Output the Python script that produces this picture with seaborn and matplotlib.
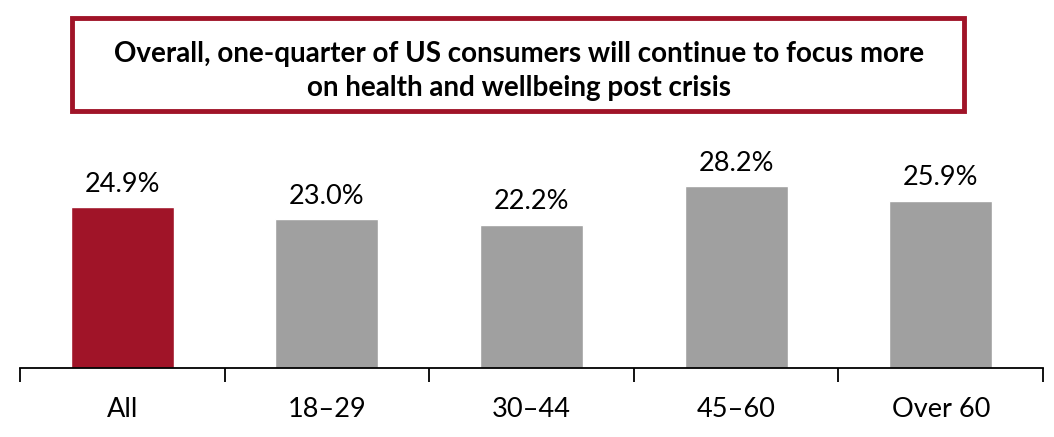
import numpy as np
import pandas as pd
import seaborn as sns
import matplotlib.pyplot as plt
from matplotlib.patches import Rectangle

# Chart data
groups = ["All", "18\u201329", "30\u201344", "45\u201360", "Over 60"]
shares = [24.9, 23.0, 22.2, 28.2, 25.9]
bar_colors = ["#A01428", "#A0A0A0", "#A0A0A0", "#A0A0A0", "#A0A0A0"]
title = "Overall, one-quarter of US consumers will continue to focus more\non health and wellbeing post crisis"

df = pd.DataFrame({"group": groups, "share": shares})

sns.set_style("white")
plt.rcParams['font.family'] = ['Lato', 'DejaVu Sans']
plt.rcParams['text.color'] = 'black'
plt.rcParams['xtick.color'] = 'black'

fig = plt.figure(figsize=(10.54, 4.37), dpi=100)
W, H = 1054, 437
# axes placed in pixel terms: left 20, right 1043, bottom 368, top 142
ax = fig.add_axes([20 / W, (H - 368) / H, 1023 / W, 226 / H])

sns.barplot(data=df, x="group", y="share", hue="group", palette=bar_colors,
            width=0.503, legend=False, ax=ax, saturation=1)

ax.set_ylim(0, 35)
ax.set_xlim(-0.5, len(groups) - 0.5)
ax.set_xlabel("")
ax.set_ylabel("")
ax.set_yticks([])
for s in ["top", "right", "left"]:
    ax.spines[s].set_visible(False)
ax.spines["bottom"].set_color("black")
ax.spines["bottom"].set_linewidth(1.3)

ax.tick_params(axis="x", which="major", bottom=True, length=0, pad=21,
               labelsize=19.5, labelcolor="black")
ax.set_xticks(np.arange(-0.5, len(groups)), minor=True)
ax.tick_params(axis="x", which="minor", bottom=True, length=10, width=1.3,
               direction="out", color="black")

for i, v in enumerate(shares):
    ax.text(i, v + 1.6, f"{v:.1f}%", ha="center", va="bottom", fontsize=19.5,
            color="black")

# title box
fig.patches.append(Rectangle((72 / W, (H - 111) / H), 892 / W, 93 / H,
                             transform=fig.transFigure, fill=False,
                             edgecolor="#A01428", linewidth=3.5))
fig.text(519 / W, (H - 71) / H, title, ha="center", va="center",
         fontsize=20, fontweight="bold", linespacing=1.35, color="black")

fig.savefig("out.png", dpi=100)
